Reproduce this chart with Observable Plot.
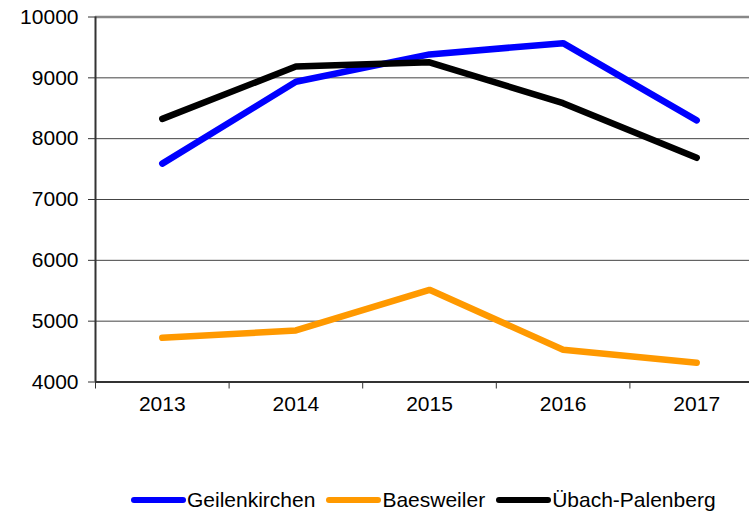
<!DOCTYPE html>
<html>
<head>
<meta charset="utf-8">
<script src="https://cdn.jsdelivr.net/npm/d3@7"></script>
<script src="https://cdn.jsdelivr.net/npm/@observablehq/plot@0.6"></script>
<style>
  html, body { margin: 0; padding: 0; background: #fff; overflow: hidden; width: 749px; height: 515px; }
  #wrap { position: relative; width: 749px; height: 515px; font-family: "Liberation Sans", Arial, sans-serif; }
  #chart svg { overflow: visible; display: block; }
  #legend { position: absolute; left: 131px; top: 488px; display: flex; align-items: center; font-size: 21px; color: #000; white-space: nowrap; }
  .item { display: flex; align-items: center; margin-right: 11px; }
  .sw { width: 55px; height: 6px; border-radius: 3px; margin-right: 1px; }
</style>
</head>
<body>
<div id="wrap">
  <div id="chart"></div>
  <div id="legend"></div>
</div>
<script>
const years = [2013, 2014, 2015, 2016, 2017];
const seriesNames = ["Geilenkirchen", "Baesweiler", "Übach-Palenberg"];
const seriesColors = ["#0000ff", "#ff9900", "#000000"];
const geilenkirchen = [7590, 8935, 9385, 9570, 8300];
const baesweiler = [4727, 4847, 5516, 4530, 4316];
const ubachPalenberg = [8325, 9187, 9255, 8583, 7686];
const yTicks = [4000, 5000, 6000, 7000, 8000, 9000, 10000];

const seriesValues = [geilenkirchen, baesweiler, ubachPalenberg];
const data = [];
seriesNames.forEach((name, si) => {
  years.forEach((yr, i) => data.push({series: name, year: yr, value: seriesValues[si][i]}));
});
const bounds = [years[0] - 0.5, ...years.map(y => y + 0.5)];
const yMin = yTicks[0], yMax = yTicks[yTicks.length - 1];

const plot = Plot.plot({
  width: 749,
  height: 420,
  marginLeft: 95,
  marginRight: -14,
  marginTop: 16.5,
  marginBottom: 38.5,
  style: {fontFamily: "'Liberation Sans', Arial, sans-serif", fontSize: "21px", color: "#000", background: "transparent", overflow: "visible"},
  x: {domain: [bounds[0], bounds[bounds.length - 1]]},
  y: {domain: [yMin, yMax]},
  color: {domain: seriesNames, range: seriesColors},
  marks: [
    Plot.gridY(yTicks.filter(t => t !== yMin && t !== yMax), {stroke: "#444", strokeOpacity: 1, strokeWidth: 1}),
    Plot.gridY([yMax], {stroke: "#888", strokeOpacity: 1, strokeWidth: 2.5}),
    Plot.axisY(yTicks, {tickSize: 7, tickPadding: 10, tickFormat: d => String(d), stroke: "#333", label: null, fill: "#000", fontSize: 21}),
    Plot.axisX(bounds, {tickSize: 7, tickFormat: () => "", stroke: "#333", label: null}),
    Plot.axisX(years, {tickSize: 0, tickPadding: 14, tickFormat: d => String(d), label: null, fill: "#000", fontSize: 21}),
    Plot.ruleY([yMin], {stroke: "#333", strokeWidth: 2}),
    Plot.ruleX([bounds[0]], {y1: yMin, y2: yMax, stroke: "#333", strokeWidth: 2}),
    Plot.line(data, {x: "year", y: "value", z: "series", stroke: "series", strokeWidth: 6.5, strokeLinecap: "round", strokeLinejoin: "miter"})
  ]
});
document.getElementById("chart").appendChild(plot);

const legend = document.getElementById("legend");
seriesNames.forEach((name, i) => {
  const item = document.createElement("div");
  item.className = "item";
  const sw = document.createElement("div");
  sw.className = "sw";
  sw.style.background = seriesColors[i];
  const t = document.createElement("span");
  t.textContent = name;
  item.appendChild(sw);
  item.appendChild(t);
  legend.appendChild(item);
});
</script>
</body>
</html>
